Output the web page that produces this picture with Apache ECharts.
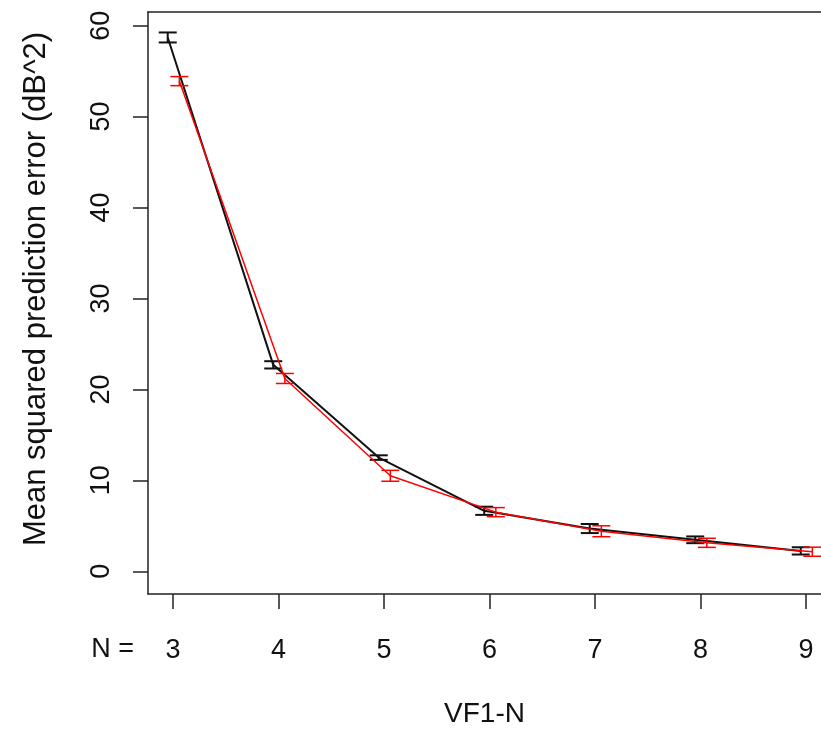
<!DOCTYPE html>
<html>
<head>
<meta charset="utf-8">
<script src="https://cdn.jsdelivr.net/npm/echarts@6/dist/echarts.min.js"></script>
<style>
  html, body { margin: 0; padding: 0; background: #fff; }
  #chart-zone { width: 821px; height: 733px; }
</style>
</head>
<body>
<div id="chart-zone"></div>
<script>
// N values on the x axis
var nValues = [3, 4, 5, 6, 7, 8, 9];
// black series: mean and half-width of error bar
var blackMean = [58.7, 22.7, 12.5, 6.65, 4.7, 3.46, 2.24];
var blackErr  = [0.55, 0.4, 0.25, 0.45, 0.5, 0.37, 0.4];
// red series
var redMean = [53.9, 21.2, 10.5, 6.5, 4.4, 3.13, 2.15];
var redErr  = [0.5, 0.55, 0.6, 0.5, 0.6, 0.5, 0.5];
// tick labels
var xTicks = [3, 4, 5, 6, 7, 8, 9];
var yTicks = [0, 10, 20, 30, 40, 50, 60];

var BLACK_SHIFT = -0.05;
var RED_SHIFT = 0.06;
var FONT = 'Liberation Sans, Arial, sans-serif';

function linePoints(mean, shift) {
    return nValues.map(function (n, i) { return [n + shift, mean[i]]; });
}
function barPoints(mean, err, shift) {
    return nValues.map(function (n, i) { return [n + shift, mean[i] - err[i], mean[i] + err[i]]; });
}

function errorBar(color, width) {
    return function (params, api) {
        var x = api.value(0);
        var lo = api.coord([x, api.value(1)]);
        var hi = api.coord([x, api.value(2)]);
        var half = 9;
        var style = { stroke: color, lineWidth: width };
        return {
            type: 'group',
            children: [
                { type: 'line', shape: { x1: hi[0], y1: hi[1], x2: lo[0], y2: lo[1] }, style: style },
                { type: 'line', shape: { x1: hi[0] - half, y1: hi[1], x2: hi[0] + half, y2: hi[1] }, style: style },
                { type: 'line', shape: { x1: lo[0] - half, y1: lo[1], x2: lo[0] + half, y2: lo[1] }, style: style }
            ]
        };
    };
}

var chart = echarts.init(document.getElementById('chart-zone'));

var axisLineStyle = { color: '#222', width: 1.5 };

var option = {
    backgroundColor: '#fff',
    animation: false,
    grid: { left: 148, top: 12, right: 0, bottom: 135, show: false },
    xAxis: [
        {
            type: 'value',
            min: 2.763, max: 9.142,
            name: 'VF1-N',
            nameLocation: 'middle',
            nameGap: 106,
            nameTextStyle: { fontFamily: FONT, fontSize: 28, color: '#111' },
            axisLine: { show: true, onZero: false, lineStyle: axisLineStyle },
            axisTick: { show: true, length: 15, customValues: xTicks, lineStyle: axisLineStyle },
            axisLabel: { customValues: xTicks, margin: 43, fontFamily: FONT, fontSize: 27, color: '#111' },
            splitLine: { show: false }
        },
        {
            // top edge of the box
            type: 'value', position: 'top',
            min: 2.763, max: 9.142,
            axisLine: { show: true, onZero: false, lineStyle: axisLineStyle },
            axisTick: { show: false }, axisLabel: { show: false }, splitLine: { show: false }
        }
    ],
    yAxis: {
        type: 'value',
        min: -2.5, max: 61.5,
        name: 'Mean squared prediction error (dB^2)',
        nameLocation: 'middle',
        nameRotate: 90,
        nameGap: 96,
        nameTextStyle: { fontFamily: FONT, fontSize: 31, color: '#111', padding: [0, 0, 0, 28] },
        axisLine: { show: true, onZero: false, lineStyle: axisLineStyle },
        axisTick: { show: true, length: 15, customValues: yTicks, lineStyle: axisLineStyle },
        axisLabel: { customValues: yTicks, rotate: 90, margin: 33, fontFamily: FONT, fontSize: 27, color: '#111' },
        splitLine: { show: false }
    },
    graphic: [{
        type: 'text',
        right: 821 - 134,
        top: 636,
        style: { text: 'N =', fontFamily: FONT, fontSize: 27, fill: '#111' }
    }],
    series: [
        {
            name: 'black', type: 'line', data: linePoints(blackMean, BLACK_SHIFT),
            symbol: 'none', lineStyle: { color: '#111', width: 2 }, z: 2
        },
        {
            name: 'black-err', type: 'custom', data: barPoints(blackMean, blackErr, BLACK_SHIFT),
            renderItem: errorBar('#111', 2), z: 2
        },
        {
            name: 'red', type: 'line', data: linePoints(redMean, RED_SHIFT),
            symbol: 'none', lineStyle: { color: '#ff0000', width: 1.5 }, z: 3
        },
        {
            name: 'red-err', type: 'custom', data: barPoints(redMean, redErr, RED_SHIFT),
            renderItem: errorBar('#ff0000', 1.5), z: 3
        }
    ]
};

chart.setOption(option);
</script>
</body>
</html>
